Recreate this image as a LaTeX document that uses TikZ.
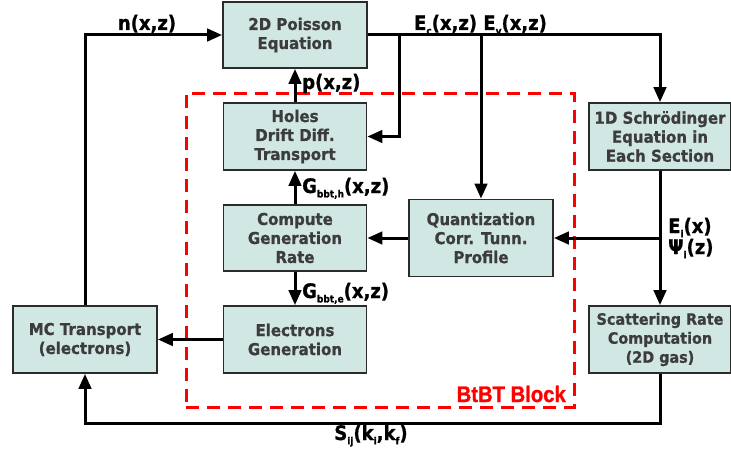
\documentclass[tikz,border=0pt]{standalone}
\usepackage{fontspec}
\usetikzlibrary{arrows.meta}
\newfontfamily\boxfont[FakeStretch=0.92,BoldFeatures={FakeBold=0.8}]{DejaVu Sans}
\newfontfamily\lblfont[FakeStretch=0.9,BoldFeatures={FakeBold=0.8}]{DejaVu Sans}
\newfontfamily\redfont[FakeStretch=0.9,BoldFeatures={FakeBold=1.2}]{Liberation Sans}
\definecolor{boxfill}{HTML}{D0E7E4}
\definecolor{boxtext}{HTML}{3C3C3C}
\definecolor{boxline}{HTML}{2B2B2B}
\definecolor{blockred}{HTML}{FF0000}
\newcommand\lsub[1]{\raisebox{-0.22em}{\fontsize{10}{10}\selectfont #1}}
\tikzset{
  blk/.style={draw=boxline, line width=1.8pt, fill=boxfill, text=boxtext,
    align=center, inner sep=0pt,
    font=\boxfont\bfseries\fontsize{16.3}{19}\selectfont},
  arr/.style={line width=3pt, -{Triangle[length=15pt,width=12.5pt]}},
  lbl/.style={font=\lblfont\bfseries\fontsize{20}{22}\selectfont, inner sep=0pt},
  reddash/.style={draw=blockred, line width=3pt, dash pattern=on 13pt off 8pt}
}
\begin{document}
\begin{tikzpicture}[x=1pt,y=-1pt]
\useasboundingbox (0,0) rectangle (731,452);
% BtBT block frame
\node[reddash, minimum width=388pt, minimum height=314pt, inner sep=0pt] (btbt) at (380,250) {};
\node[anchor=base east, text=blockred, inner sep=0pt,
  font=\redfont\bfseries\fontsize{22.5}{24}\selectfont] (btbtlbl) at (566,402) {BtBT Block};
% boxes
\node[blk, minimum width=144pt, minimum height=66pt] (poisson) at (295,35) {2D Poisson\\Equation};
\node[blk, minimum width=143pt, minimum height=67pt] (holes) at (295,136.5) {Holes\\Drift Diff.\\Transport};
\node[blk, minimum width=143pt, minimum height=66pt] (compute) at (295,238) {Compute\\Generation\\Rate};
\node[blk, minimum width=143pt, minimum height=67pt] (electrons) at (295,339.5) {Electrons\\Generation};
\node[blk, minimum width=144pt, minimum height=67pt] (mc) at (85,339.5) {MC Transport\\(electrons)};
\node[blk, minimum width=144pt, minimum height=77pt] (quant) at (481,238) {Quantization\\Corr. Tunn.\\Profile};
\node[blk, minimum width=142pt, minimum height=67pt] (schr) at (660,136.5) {1D Schrödinger\\Equation in\\Each Section};
\node[blk, minimum width=142pt, minimum height=67pt,
  font=\boxfont\bfseries\fontsize{15.6}{19}\selectfont] (scatter) at (660,339.5) {Scattering Rate\\Computation\\(2D gas)};
% junction points
\coordinate (b1) at (399,35);
\coordinate (b2) at (481,35);
\coordinate (b3) at (660,238);
\coordinate (bot) at (85,423);
% connectors
\draw[arr] (mc.north) |- (poisson.west);
\draw[arr] (poisson.east) -| (schr.north);
\draw[arr] (b1) |- (holes.east);
\draw[arr] (b2) -- (quant.north);
\draw[arr] (holes.north) -- (poisson.south);
\draw[arr] (compute.north) -- (holes.south);
\draw[arr] (compute.south) -- (electrons.north);
\draw[arr] (quant.west) -- (compute.east);
\draw[arr] (schr.south) -- (scatter.north);
\draw[arr] (b3) -- (quant.east);
\draw[arr] (electrons.west) -- (mc.east);
\draw[arr] (scatter.south) |- (bot) -- (mc.south);
% labels
\node[lbl, anchor=base] (ln) at (147,30) {n(x,z)};
\node[lbl, anchor=base] (lE) at (480.5,30) {E\lsub{c}(x,z) E\lsub{v}(x,z)};
\node[lbl, anchor=base west] (lp) at (302,89) {p(x,z)};
\node[lbl, anchor=base west] (lgh) at (302,193) {G\lsub{bbt,h}(x,z)};
\node[lbl, anchor=base west] (lge) at (302,298) {G\lsub{bbt,e}(x,z)};
\node[lbl, anchor=base west] (lei) at (668,233) {E\lsub{i}(x)};
\node[lbl, anchor=base west] (lpsi) at (668,254) {Ψ\lsub{i}(z)};
\node[lbl, anchor=base] (ls) at (371,440) {S\lsub{ij}(k\lsub{i},k\lsub{f})};
\end{tikzpicture}
\end{document}
